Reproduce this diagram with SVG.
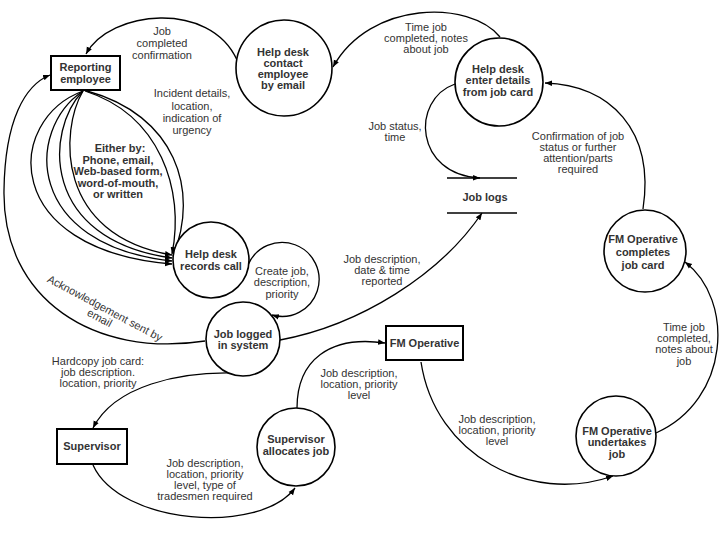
<svg xmlns="http://www.w3.org/2000/svg" width="720" height="540" viewBox="0 0 720 540">
<defs>
<marker id="ah" viewBox="0 0 10 10" refX="10" refY="5" markerWidth="7" markerHeight="7" markerUnits="userSpaceOnUse" orient="auto"><path d="M0,1 L10,5 L0,9 z" fill="#000"/></marker>
</defs>
<style>
.n{fill:#fff;stroke:#000;stroke-width:1.6}
.b{fill:#fff;stroke:#000;stroke-width:2}
.c{fill:none;stroke:#000;stroke-width:1.3;marker-end:url(#ah)}
.t{font-family:"Liberation Sans",Arial,sans-serif;font-size:11px;font-weight:bold;fill:#333;text-anchor:middle}
.l{font-family:"Liberation Sans",Arial,sans-serif;font-size:11px;fill:#333;text-anchor:middle}
.s{fill:none;stroke:#000;stroke-width:1.5}
</style>
<rect width="720" height="540" fill="#fff"/>
<g id="connectors">
<path class="c" d="M237,60 C210,0 110,10 86,54"/>
<path class="c" d="M500,37 C470,0 370,0 333,67"/>
<path class="c" d="M455,84 C410,100 415,175 480,178"/>
<path class="c" d="M643,209 C655,130 610,85 545,83"/>
<path class="c" d="M656,433 C730,400 735,300 685,262"/>
<path class="c" d="M421,362 C435,455 530,505 613,476"/>
<path class="c" d="M297,408 C297,360 330,335 385,343"/>
<path class="c" d="M93,465 C120,525 260,535 295,488"/>
<path class="c" d="M233,373 C180,372 115,385 93,428"/>
<path class="c" d="M280,340 C360,325 440,275 482,213"/>
<path class="c" d="M205,341 C95,358 2,300 4,190 C5,120 25,85 50,75"/>
<path class="c" d="M248,265 A37,37 0 1 1 272,315"/>
<path class="c" d="M83,91 C5,120 0,250 172,264"/>
<path class="c" d="M83,91 C25,130 25,245 172,261"/>
<path class="c" d="M83,91 C45,130 40,240 172,258"/>
<path class="c" d="M83,91 C60,130 55,235 172,255"/>
<path class="c" d="M85,91 C160,115 185,190 172,254"/>
<path class="c" d="M87,91 C175,115 200,190 173,256"/>
</g>
<g id="labels">
<text class="l"><tspan x="162" y="35">Job</tspan><tspan x="162" y="47">completed</tspan><tspan x="162" y="59">confirmation</tspan></text>
<text class="l"><tspan x="426" y="31">Time job</tspan><tspan x="426" y="42">completed, notes</tspan><tspan x="426" y="53">about job</tspan></text>
<text class="l"><tspan x="192" y="97">Incident details,</tspan><tspan x="192" y="110">location,</tspan><tspan x="192" y="122">indication of</tspan><tspan x="192" y="134">urgency</tspan></text>
<text class="t"><tspan x="120" y="152">Either by:</tspan><tspan x="118" y="164">Phone, email,</tspan><tspan x="118" y="175">Web-based form,</tspan><tspan x="118" y="187">word-of-mouth,</tspan><tspan x="118" y="198">or written</tspan></text>
<text class="l"><tspan x="395" y="130">Job status,</tspan><tspan x="395" y="141">time</tspan></text>
<text class="l"><tspan x="578" y="140">Confirmation of job</tspan><tspan x="578" y="151">status or further</tspan><tspan x="578" y="162">attention/parts</tspan><tspan x="578" y="173">required</tspan></text>
<text class="l"><tspan x="684" y="331">Time job</tspan><tspan x="684" y="342">completed,</tspan><tspan x="684" y="353">notes about</tspan><tspan x="684" y="365">job</tspan></text>
<text class="l"><tspan x="497" y="423">Job description,</tspan><tspan x="497" y="434">location, priority</tspan><tspan x="497" y="445">level</tspan></text>
<text class="l"><tspan x="359" y="377">Job description,</tspan><tspan x="359" y="388">location, priority</tspan><tspan x="359" y="399">level</tspan></text>
<text class="l"><tspan x="205" y="467">Job description,</tspan><tspan x="205" y="478">location, priority</tspan><tspan x="205" y="489">level, type of</tspan><tspan x="205" y="500">tradesmen required</tspan></text>
<text class="l"><tspan x="98" y="365">Hardcopy job card:</tspan><tspan x="98" y="376">job description.</tspan><tspan x="98" y="387">location, priority</tspan></text>
<text class="l"><tspan x="382" y="263">Job description,</tspan><tspan x="382" y="274">date &amp; time</tspan><tspan x="382" y="285">reported</tspan></text>
<text class="l"><tspan x="282" y="275">Create job,</tspan><tspan x="282" y="286">description,</tspan><tspan x="282" y="298">priority</tspan></text>
<text class="l" transform="translate(105,308) rotate(28)"><tspan x="0" y="4">Acknowledgement sent by</tspan><tspan x="0" y="15">email</tspan></text>
</g>
<g id="reporting-employee">
<rect class="b" x="51" y="56" width="69" height="34"/>
<text class="t"><tspan x="85.5" y="71">Reporting</tspan><tspan x="85.5" y="83">employee</tspan></text>
</g>
<g id="help-desk-contact">
<circle class="n" cx="284" cy="68" r="48"/>
<text class="t"><tspan x="283" y="55.5">Help desk</tspan><tspan x="283" y="66.5">contact</tspan><tspan x="283" y="77.5">employee</tspan><tspan x="283" y="88.5">by email</tspan></text>
</g>
<g id="help-desk-enter">
<circle class="n" cx="499" cy="82" r="44"/>
<text class="t"><tspan x="498" y="73">Help desk</tspan><tspan x="498" y="84">enter details</tspan><tspan x="498" y="96">from job card</tspan></text>
</g>
<g id="job-logs">
<line class="s" x1="447" y1="178" x2="517" y2="178"/>
<line class="s" x1="447" y1="213" x2="517" y2="213"/>
<text class="t" x="485" y="201">Job logs</text>
</g>
<g id="fm-completes">
<circle class="n" cx="645" cy="251" r="41"/>
<text class="t"><tspan x="643" y="243">FM Operative</tspan><tspan x="643" y="256">completes</tspan><tspan x="643" y="269">job card</tspan></text>
</g>
<g id="fm-undertakes">
<circle class="n" cx="616" cy="436" r="40"/>
<text class="t"><tspan x="617" y="435">FM Operative</tspan><tspan x="617" y="446">undertakes</tspan><tspan x="617" y="458">job</tspan></text>
</g>
<g id="fm-operative">
<rect class="b" x="386" y="326" width="77" height="34"/>
<text class="t" x="424.5" y="347">FM Operative</text>
</g>
<g id="supervisor-allocates">
<circle class="n" cx="296" cy="447" r="39"/>
<text class="t"><tspan x="296" y="443">Supervisor</tspan><tspan x="296" y="455">allocates job</tspan></text>
</g>
<g id="supervisor">
<rect class="b" x="57" y="429" width="70" height="35"/>
<text class="t" x="92" y="450">Supervisor</text>
</g>
<g id="job-logged">
<circle class="n" cx="243" cy="339" r="37"/>
<text class="t"><tspan x="243" y="337.5">Job logged</tspan><tspan x="243" y="348.5">in system</tspan></text>
</g>
<g id="help-desk-records">
<circle class="n" cx="211" cy="260" r="38"/>
<text class="t"><tspan x="211" y="258">Help desk</tspan><tspan x="211" y="270">records call</tspan></text>
</g>
</svg>
